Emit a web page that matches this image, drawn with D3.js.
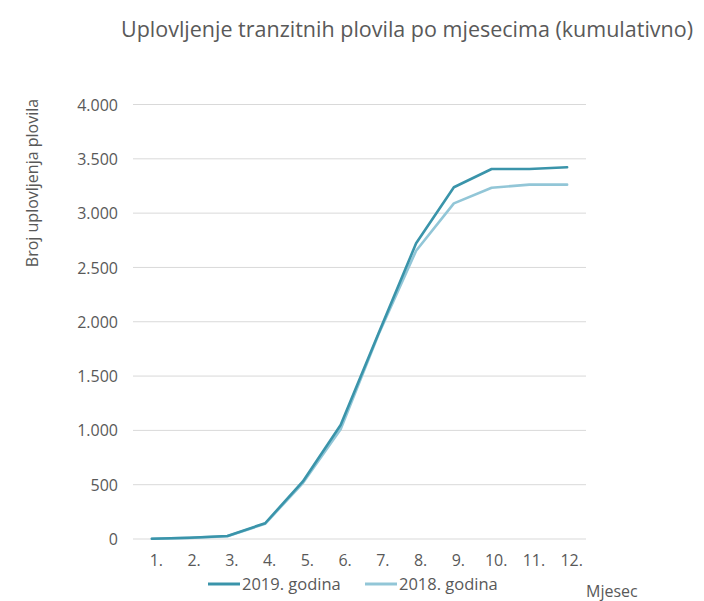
<!DOCTYPE html>
<html><head><meta charset="utf-8">
<script src="https://cdn.jsdelivr.net/npm/d3@7"></script>
<style>body{margin:0;background:#fff;} text{font-family:"Open Sans","Liberation Sans",sans-serif;fill:#595959;}</style>
</head><body><svg id="c" width="704" height="601"></svg>
<script>
const months = ["1.","2.","3.","4.","5.","6.","7.","8.","9.","10.","11.","12."];
const values2019 = [2, 12, 28, 145, 530, 1050, 1890, 2722, 3238, 3406, 3406, 3422];
const values2018 = [2, 10, 25, 140, 515, 1010, 1880, 2654, 3090, 3234, 3262, 3262];
const yTicks = [0, 500, 1000, 1500, 2000, 2500, 3000, 3500, 4000];
const seriesNames = ["2019. godina", "2018. godina"];
const colors = ["#3a94aa", "#92c6d7"];

const svg = d3.select("#c");
const x = d3.scalePoint().domain(months).range([133, 586]).padding(0.5);
const y = d3.scaleLinear().domain([0, 4000]).range([539, 104.5]);
const fmt = v => d3.format(",")(v).replace(/,/g, ".");

svg.append("text").attr("x", 407).attr("y", 37).attr("text-anchor","middle")
  .style("font-size","21.5px").text("Uplovljenje tranzitnih plovila po mjesecima (kumulativno)");

const g = svg.append("g");
g.selectAll("line.grid").data(yTicks).join("line")
  .attr("x1",133).attr("x2",586).attr("y1",d=>y(d)).attr("y2",d=>y(d))
  .attr("stroke","#d9d9d9").attr("stroke-width",1);

const yAxis = svg.append("g").attr("transform","translate(118,0)")
  .call(d3.axisLeft(y).tickValues(yTicks).tickFormat(fmt).tickSize(0).tickPadding(0));
yAxis.select(".domain").remove();
yAxis.selectAll("text").style("font-size","16px").style("font-family",null).attr("fill",null).attr("dy","0.35em");

const xAxis = svg.append("g").attr("transform","translate(0,539)")
  .call(d3.axisBottom(x).tickSize(0).tickPadding(16));
xAxis.select(".domain").remove();
xAxis.selectAll("text").style("font-size","16px").style("font-family",null).attr("fill",null).attr("dx","4");

svg.append("text").attr("transform","translate(38,183) rotate(-90)").attr("text-anchor","middle")
  .style("font-size","16px").text("Broj uplovljenja plovila");

const line = d3.line().x((d,i)=>x(months[i])).y(d=>y(d));
[values2018, values2019].forEach((vals, k) => {
  const idx = k === 0 ? 1 : 0;
  svg.append("path").datum(vals).attr("d", line).attr("fill","none")
    .attr("stroke", colors[idx]).attr("stroke-width",2.6).attr("stroke-linejoin","round").attr("stroke-linecap","round");
});

const legX = [208, 365];
seriesNames.forEach((n,i)=>{
  svg.append("line").attr("x1",legX[i]).attr("x2",legX[i]+32).attr("y1",584).attr("y2",584)
    .attr("stroke",colors[i]).attr("stroke-width",3);
  svg.append("text").attr("x",legX[i]+34).attr("y",590).style("font-size","16.5px").text(n);
});

svg.append("text").attr("x",586).attr("y",597).style("font-size","16px").text("Mjesec");
</script></body></html>
